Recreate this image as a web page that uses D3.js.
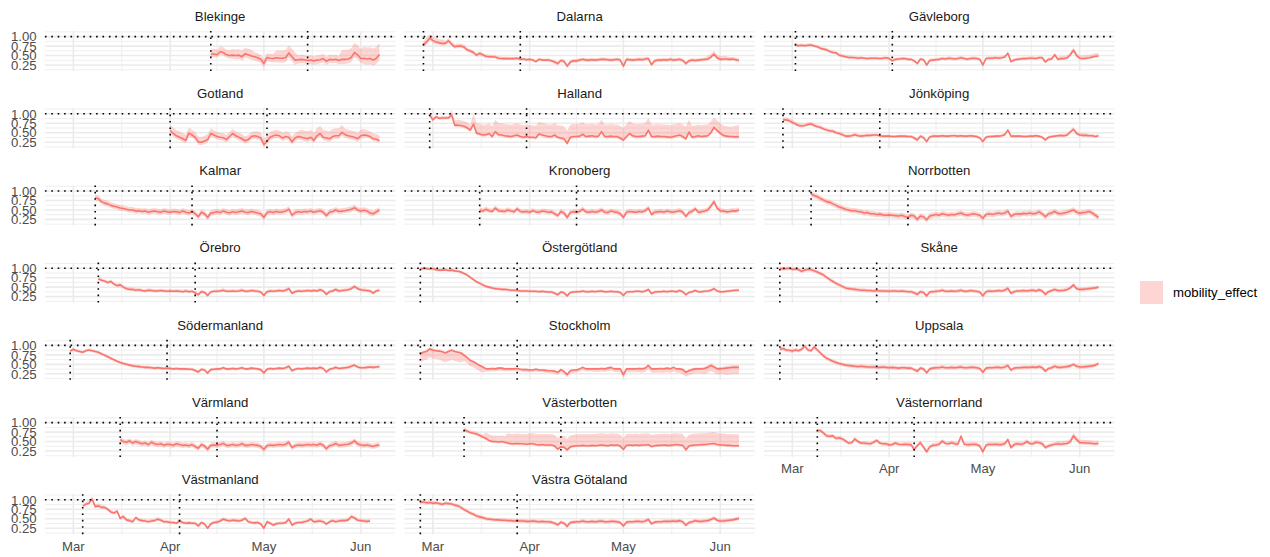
<!DOCTYPE html>
<html><head><meta charset="utf-8">
<script src="https://cdn.jsdelivr.net/npm/d3@7"></script>
<style>
body{margin:0;background:#fff}
svg{display:block}
text{font-family:"Liberation Sans",Arial,Helvetica,sans-serif}
</style>
</head><body>
<svg id="chart" width="1270" height="557"></svg>
<script>
// ---------------- data ----------------
const regions = ["Blekinge","Dalarna","Gävleborg","Gotland","Halland","Jönköping","Kalmar","Kronoberg","Norrbotten","Örebro","Östergötland","Skåne","Södermanland","Stockholm","Uppsala","Värmland","Västerbotten","Västernorrland","Västmanland","Västra Götaland"];
const startDates = ["2020-04-14","2020-02-27","2020-03-02","2020-04-01","2020-02-29","2020-02-27","2020-03-08","2020-03-16","2020-03-07","2020-03-09","2020-02-26","2020-02-26","2020-02-29","2020-02-26","2020-02-26","2020-03-16","2020-03-11","2020-03-09","2020-03-04","2020-02-26"];
const secondDates = ["2020-05-15","2020-03-29","2020-04-02","2020-05-02","2020-03-31","2020-03-29","2020-04-08","2020-04-16","2020-04-07","2020-04-09","2020-03-28","2020-03-28","2020-03-31","2020-03-28","2020-03-28","2020-04-16","2020-04-11","2020-04-09","2020-04-04","2020-03-28"];

const blekinge = [0.54,0.54,0.52,0.60,0.58,0.52,0.50,0.51,0.50,0.51,0.47,0.55,0.52,0.49,0.47,0.44,0.40,0.29,0.45,0.43,0.42,0.44,0.43,0.43,0.45,0.57,0.47,0.38,0.39,0.40,0.39,0.37,0.38,0.36,0.38,0.39,0.42,0.35,0.40,0.39,0.40,0.37,0.40,0.40,0.41,0.45,0.58,0.52,0.42,0.43,0.41,0.42,0.38,0.43,0.53];
const dalarna = [0.78,0.86,0.96,0.90,0.86,0.84,0.82,0.82,0.89,0.80,0.73,0.75,0.75,0.72,0.65,0.62,0.58,0.51,0.56,0.52,0.48,0.47,0.47,0.46,0.43,0.42,0.42,0.42,0.42,0.42,0.43,0.40,0.41,0.39,0.40,0.38,0.34,0.40,0.38,0.38,0.38,0.36,0.33,0.29,0.37,0.35,0.22,0.33,0.36,0.36,0.38,0.40,0.38,0.38,0.39,0.38,0.39,0.40,0.40,0.39,0.38,0.39,0.40,0.38,0.22,0.40,0.39,0.38,0.39,0.40,0.39,0.41,0.42,0.26,0.36,0.38,0.38,0.39,0.38,0.40,0.38,0.39,0.40,0.37,0.29,0.36,0.38,0.37,0.38,0.39,0.40,0.41,0.46,0.54,0.44,0.40,0.41,0.41,0.40,0.41,0.39,0.37];
const gavleborg = [0.78,0.76,0.77,0.76,0.77,0.78,0.75,0.73,0.69,0.67,0.65,0.61,0.58,0.57,0.51,0.49,0.47,0.45,0.45,0.44,0.43,0.44,0.43,0.42,0.43,0.43,0.43,0.42,0.43,0.44,0.42,0.36,0.40,0.41,0.42,0.42,0.40,0.40,0.36,0.29,0.41,0.39,0.25,0.37,0.38,0.39,0.40,0.42,0.41,0.43,0.42,0.41,0.42,0.44,0.42,0.40,0.42,0.43,0.42,0.40,0.25,0.42,0.43,0.43,0.44,0.43,0.44,0.46,0.56,0.34,0.38,0.40,0.41,0.42,0.42,0.43,0.43,0.42,0.44,0.44,0.33,0.40,0.41,0.52,0.40,0.42,0.42,0.44,0.52,0.64,0.50,0.43,0.42,0.43,0.44,0.46,0.48,0.49];
const gotland = [0.56,0.48,0.42,0.38,0.34,0.30,0.49,0.44,0.38,0.26,0.25,0.28,0.32,0.48,0.44,0.40,0.38,0.37,0.32,0.40,0.48,0.42,0.38,0.34,0.29,0.32,0.40,0.42,0.40,0.36,0.19,0.28,0.38,0.42,0.44,0.42,0.36,0.40,0.38,0.26,0.36,0.40,0.38,0.36,0.34,0.38,0.30,0.42,0.48,0.38,0.36,0.34,0.40,0.42,0.42,0.51,0.45,0.42,0.40,0.38,0.34,0.42,0.44,0.43,0.40,0.34,0.33,0.29];
const halland = [0.97,0.84,0.92,0.88,0.89,0.89,0.89,0.97,0.70,0.70,0.69,0.67,0.63,0.57,0.73,0.49,0.47,0.44,0.45,0.48,0.40,0.53,0.45,0.44,0.42,0.41,0.40,0.42,0.44,0.40,0.38,0.40,0.38,0.38,0.37,0.47,0.44,0.42,0.40,0.40,0.44,0.38,0.36,0.34,0.22,0.38,0.40,0.40,0.41,0.46,0.40,0.41,0.42,0.40,0.41,0.53,0.40,0.40,0.41,0.40,0.40,0.36,0.31,0.40,0.48,0.42,0.40,0.40,0.41,0.42,0.57,0.40,0.40,0.41,0.40,0.40,0.39,0.38,0.40,0.42,0.44,0.40,0.34,0.52,0.38,0.40,0.42,0.40,0.41,0.42,0.50,0.64,0.56,0.49,0.43,0.41,0.40,0.40,0.39,0.40];
const jonkoping = [0.84,0.84,0.82,0.77,0.73,0.69,0.68,0.69,0.72,0.73,0.69,0.66,0.64,0.60,0.57,0.55,0.54,0.50,0.48,0.45,0.41,0.41,0.42,0.45,0.42,0.41,0.42,0.43,0.43,0.44,0.44,0.42,0.41,0.41,0.41,0.40,0.40,0.41,0.41,0.41,0.40,0.40,0.36,0.31,0.41,0.37,0.27,0.39,0.41,0.41,0.41,0.42,0.41,0.41,0.42,0.42,0.41,0.42,0.41,0.41,0.42,0.41,0.40,0.36,0.27,0.38,0.40,0.40,0.41,0.41,0.42,0.45,0.57,0.41,0.41,0.41,0.41,0.40,0.40,0.41,0.41,0.42,0.41,0.38,0.31,0.38,0.40,0.41,0.42,0.43,0.42,0.44,0.52,0.59,0.48,0.44,0.43,0.43,0.42,0.42,0.40,0.42];
const kalmar = [0.82,0.80,0.72,0.68,0.66,0.62,0.60,0.58,0.55,0.54,0.52,0.50,0.50,0.47,0.48,0.46,0.47,0.44,0.46,0.47,0.45,0.44,0.47,0.45,0.44,0.46,0.45,0.43,0.47,0.44,0.42,0.46,0.40,0.32,0.44,0.40,0.30,0.42,0.43,0.45,0.43,0.47,0.44,0.42,0.45,0.43,0.45,0.47,0.44,0.43,0.46,0.44,0.42,0.40,0.30,0.43,0.45,0.43,0.46,0.44,0.45,0.47,0.52,0.36,0.43,0.45,0.44,0.46,0.45,0.47,0.44,0.46,0.48,0.44,0.35,0.44,0.46,0.50,0.46,0.47,0.48,0.50,0.52,0.56,0.50,0.47,0.49,0.47,0.42,0.40,0.45,0.50];
const kronoberg = [0.50,0.47,0.52,0.48,0.46,0.55,0.48,0.47,0.46,0.50,0.47,0.45,0.53,0.46,0.45,0.46,0.44,0.48,0.45,0.44,0.47,0.46,0.44,0.45,0.40,0.35,0.46,0.42,0.30,0.43,0.45,0.44,0.46,0.52,0.45,0.44,0.46,0.44,0.46,0.50,0.44,0.43,0.47,0.45,0.44,0.40,0.30,0.44,0.46,0.45,0.44,0.46,0.45,0.48,0.55,0.38,0.44,0.45,0.46,0.44,0.47,0.45,0.44,0.46,0.48,0.44,0.33,0.43,0.46,0.53,0.44,0.45,0.47,0.50,0.60,0.72,0.55,0.48,0.47,0.45,0.46,0.48,0.47,0.50];
const norrbotten = [0.92,0.88,0.85,0.80,0.76,0.72,0.70,0.66,0.62,0.58,0.55,0.52,0.50,0.48,0.48,0.46,0.45,0.42,0.43,0.40,0.40,0.38,0.39,0.37,0.36,0.37,0.36,0.35,0.34,0.36,0.33,0.30,0.36,0.34,0.25,0.34,0.32,0.24,0.34,0.36,0.38,0.36,0.40,0.38,0.36,0.38,0.37,0.40,0.42,0.38,0.36,0.38,0.40,0.38,0.36,0.28,0.38,0.40,0.38,0.40,0.42,0.40,0.42,0.47,0.33,0.38,0.40,0.39,0.41,0.40,0.42,0.40,0.41,0.45,0.40,0.32,0.40,0.42,0.46,0.41,0.40,0.42,0.44,0.47,0.50,0.44,0.41,0.43,0.44,0.46,0.42,0.36,0.30];
const orebro = [0.72,0.68,0.66,0.62,0.65,0.58,0.54,0.56,0.50,0.46,0.44,0.44,0.42,0.43,0.41,0.40,0.42,0.41,0.40,0.40,0.41,0.40,0.39,0.40,0.39,0.40,0.39,0.38,0.40,0.38,0.39,0.35,0.30,0.38,0.36,0.28,0.37,0.39,0.39,0.40,0.42,0.39,0.39,0.40,0.39,0.40,0.42,0.39,0.39,0.41,0.40,0.39,0.37,0.28,0.38,0.40,0.39,0.40,0.41,0.40,0.42,0.46,0.34,0.38,0.40,0.39,0.40,0.41,0.40,0.41,0.40,0.43,0.40,0.31,0.38,0.40,0.44,0.40,0.41,0.42,0.43,0.46,0.52,0.46,0.43,0.42,0.41,0.40,0.34,0.40,0.42];
const ostergotland = [0.98,1.00,0.99,0.98,0.99,0.96,0.95,0.95,0.96,0.94,0.95,0.93,0.92,0.90,0.86,0.82,0.76,0.70,0.64,0.60,0.56,0.52,0.50,0.48,0.46,0.45,0.44,0.44,0.43,0.42,0.42,0.41,0.40,0.40,0.40,0.39,0.39,0.39,0.38,0.39,0.38,0.37,0.37,0.34,0.30,0.37,0.35,0.27,0.36,0.37,0.38,0.38,0.40,0.38,0.38,0.39,0.38,0.39,0.40,0.38,0.38,0.39,0.38,0.38,0.36,0.28,0.37,0.38,0.38,0.39,0.39,0.38,0.40,0.44,0.33,0.37,0.38,0.38,0.39,0.38,0.39,0.39,0.38,0.41,0.38,0.30,0.36,0.38,0.41,0.38,0.38,0.39,0.40,0.42,0.46,0.40,0.38,0.38,0.39,0.40,0.41,0.42,0.42];
const skane = [1.00,0.98,0.99,1.00,0.97,0.98,0.96,0.92,0.95,0.97,0.96,0.93,0.90,0.86,0.82,0.76,0.70,0.65,0.60,0.56,0.52,0.48,0.46,0.45,0.44,0.43,0.42,0.42,0.41,0.41,0.40,0.41,0.40,0.40,0.40,0.39,0.40,0.40,0.39,0.40,0.39,0.38,0.38,0.35,0.31,0.38,0.36,0.27,0.37,0.38,0.39,0.40,0.42,0.39,0.39,0.40,0.39,0.40,0.42,0.39,0.39,0.41,0.40,0.39,0.37,0.27,0.38,0.40,0.39,0.40,0.41,0.40,0.42,0.47,0.34,0.38,0.40,0.40,0.41,0.40,0.41,0.42,0.40,0.43,0.40,0.31,0.38,0.41,0.44,0.41,0.41,0.42,0.44,0.48,0.56,0.46,0.44,0.44,0.45,0.46,0.47,0.48,0.50];
const sodermanland = [0.85,0.90,0.86,0.84,0.82,0.86,0.88,0.86,0.84,0.82,0.78,0.74,0.70,0.66,0.62,0.58,0.55,0.52,0.50,0.48,0.46,0.45,0.44,0.43,0.42,0.42,0.41,0.40,0.41,0.40,0.39,0.40,0.39,0.38,0.39,0.38,0.38,0.38,0.37,0.37,0.34,0.30,0.37,0.35,0.27,0.36,0.37,0.38,0.38,0.41,0.38,0.38,0.39,0.38,0.39,0.41,0.38,0.38,0.40,0.39,0.38,0.36,0.27,0.37,0.39,0.38,0.39,0.40,0.39,0.41,0.45,0.33,0.37,0.39,0.38,0.39,0.40,0.39,0.40,0.39,0.42,0.39,0.30,0.37,0.39,0.42,0.39,0.40,0.41,0.42,0.45,0.48,0.43,0.41,0.41,0.42,0.43,0.42,0.43,0.44];
const stockholm = [0.78,0.82,0.84,0.91,0.87,0.86,0.85,0.83,0.80,0.84,0.87,0.84,0.82,0.80,0.74,0.68,0.60,0.57,0.52,0.47,0.43,0.38,0.38,0.39,0.38,0.40,0.40,0.38,0.38,0.38,0.38,0.39,0.37,0.36,0.36,0.35,0.35,0.37,0.35,0.35,0.34,0.33,0.33,0.32,0.29,0.36,0.31,0.23,0.33,0.35,0.35,0.38,0.42,0.38,0.38,0.38,0.38,0.38,0.39,0.38,0.40,0.42,0.38,0.38,0.38,0.23,0.38,0.38,0.38,0.38,0.39,0.38,0.40,0.47,0.38,0.38,0.38,0.39,0.38,0.40,0.38,0.42,0.38,0.38,0.36,0.29,0.33,0.36,0.38,0.38,0.38,0.39,0.42,0.47,0.43,0.38,0.38,0.39,0.40,0.41,0.42,0.42,0.42];
const uppsala = [0.90,0.92,0.88,0.87,0.85,0.88,0.86,0.90,0.98,0.88,0.86,0.96,0.88,0.80,0.72,0.66,0.62,0.58,0.55,0.52,0.50,0.48,0.47,0.46,0.45,0.44,0.45,0.44,0.43,0.43,0.43,0.42,0.42,0.43,0.42,0.41,0.42,0.41,0.40,0.41,0.41,0.40,0.40,0.36,0.32,0.40,0.38,0.28,0.38,0.40,0.41,0.41,0.43,0.41,0.41,0.42,0.41,0.42,0.43,0.41,0.41,0.42,0.42,0.41,0.39,0.29,0.40,0.41,0.41,0.42,0.42,0.41,0.43,0.47,0.35,0.40,0.41,0.41,0.42,0.42,0.42,0.43,0.42,0.44,0.41,0.32,0.39,0.41,0.45,0.42,0.42,0.43,0.44,0.46,0.50,0.45,0.43,0.43,0.44,0.45,0.46,0.48,0.52];
const varmland = [0.55,0.50,0.48,0.52,0.46,0.50,0.47,0.44,0.46,0.42,0.48,0.44,0.42,0.44,0.40,0.43,0.42,0.40,0.44,0.42,0.40,0.41,0.39,0.42,0.37,0.32,0.42,0.38,0.30,0.40,0.41,0.40,0.42,0.45,0.40,0.40,0.42,0.40,0.41,0.44,0.40,0.40,0.42,0.41,0.40,0.37,0.29,0.39,0.41,0.40,0.41,0.42,0.41,0.43,0.48,0.34,0.39,0.41,0.40,0.41,0.42,0.41,0.42,0.40,0.44,0.40,0.31,0.39,0.41,0.45,0.40,0.41,0.42,0.43,0.46,0.52,0.44,0.41,0.40,0.41,0.39,0.37,0.40,0.41];
const vasterbotten = [0.81,0.77,0.74,0.72,0.70,0.66,0.62,0.58,0.53,0.50,0.50,0.49,0.50,0.48,0.46,0.44,0.44,0.45,0.44,0.44,0.43,0.44,0.44,0.42,0.41,0.42,0.41,0.41,0.41,0.38,0.30,0.36,0.35,0.28,0.36,0.38,0.39,0.39,0.40,0.39,0.39,0.40,0.39,0.40,0.41,0.40,0.39,0.41,0.40,0.41,0.38,0.29,0.40,0.41,0.40,0.41,0.40,0.41,0.41,0.42,0.37,0.39,0.40,0.40,0.41,0.40,0.40,0.41,0.42,0.41,0.40,0.28,0.38,0.40,0.41,0.41,0.42,0.42,0.43,0.44,0.45,0.42,0.41,0.41,0.40,0.40,0.39,0.39,0.39];
const vasternorrland = [0.79,0.79,0.72,0.65,0.64,0.65,0.58,0.60,0.57,0.52,0.46,0.47,0.57,0.50,0.46,0.46,0.45,0.44,0.48,0.53,0.46,0.44,0.44,0.41,0.42,0.46,0.43,0.42,0.43,0.42,0.42,0.29,0.39,0.47,0.35,0.23,0.36,0.40,0.41,0.43,0.51,0.45,0.44,0.47,0.44,0.43,0.64,0.43,0.42,0.42,0.43,0.42,0.38,0.23,0.40,0.43,0.42,0.43,0.42,0.42,0.44,0.55,0.34,0.42,0.44,0.43,0.44,0.50,0.45,0.44,0.48,0.47,0.44,0.34,0.38,0.41,0.43,0.44,0.43,0.44,0.45,0.50,0.65,0.55,0.47,0.47,0.46,0.46,0.45,0.44,0.45];
const vastmanland = [0.84,0.88,0.91,1.02,0.82,0.84,0.80,0.80,0.75,0.68,0.65,0.70,0.51,0.56,0.47,0.45,0.42,0.53,0.47,0.45,0.44,0.42,0.44,0.45,0.49,0.46,0.42,0.42,0.40,0.40,0.38,0.44,0.40,0.38,0.39,0.38,0.38,0.31,0.40,0.36,0.25,0.36,0.40,0.41,0.44,0.49,0.46,0.44,0.46,0.45,0.44,0.46,0.51,0.42,0.40,0.39,0.40,0.36,0.25,0.42,0.38,0.33,0.37,0.38,0.38,0.40,0.49,0.33,0.38,0.40,0.40,0.42,0.44,0.49,0.42,0.43,0.44,0.42,0.36,0.42,0.45,0.42,0.44,0.45,0.45,0.47,0.56,0.52,0.46,0.45,0.44,0.43,0.44];
const vastraGotaland = [0.93,0.94,0.92,0.93,0.91,0.92,0.90,0.88,0.91,0.90,0.89,0.86,0.84,0.80,0.74,0.70,0.65,0.62,0.57,0.55,0.53,0.50,0.49,0.48,0.47,0.47,0.46,0.46,0.45,0.45,0.44,0.45,0.44,0.44,0.43,0.43,0.44,0.43,0.42,0.43,0.42,0.42,0.41,0.38,0.34,0.41,0.38,0.30,0.40,0.41,0.42,0.42,0.44,0.42,0.42,0.43,0.42,0.43,0.44,0.42,0.42,0.43,0.43,0.42,0.40,0.31,0.41,0.42,0.42,0.43,0.43,0.42,0.44,0.48,0.37,0.41,0.42,0.42,0.43,0.43,0.43,0.44,0.43,0.45,0.42,0.33,0.40,0.42,0.45,0.43,0.43,0.44,0.45,0.48,0.52,0.46,0.44,0.44,0.45,0.46,0.47,0.49,0.51];

const seriesValues = [blekinge,dalarna,gavleborg,gotland,halland,jonkoping,kalmar,kronoberg,norrbotten,orebro,ostergotland,skane,sodermanland,stockholm,uppsala,varmland,vasterbotten,vasternorrland,vastmanland,vastraGotaland];

// weekly ribbon half-widths (upper / lower), one value per week from each start
const upperSpread = [
  [0.14,0.16,0.12,0.20,0.12,0.12,0.25,0.30],
  [0.10,0.07,0.05,0.05,0.04,0.04,0.05,0.05,0.05,0.05,0.05,0.05,0.05,0.08,0.06],
  [0.05,0.05,0.05,0.04,0.04,0.04,0.05,0.05,0.05,0.05,0.05,0.05,0.07,0.08],
  [0.15,0.14,0.12,0.12,0.14,0.14,0.20,0.20,0.16,0.14],
  [0.05,0.14,0.27,0.31,0.32,0.32,0.33,0.32,0.32,0.33,0.32,0.32,0.30,0.26,0.30],
  [0.07,0.06,0.05,0.05,0.04,0.04,0.05,0.04,0.04,0.04,0.04,0.04,0.04,0.06,0.05],
  [0.08],
  [0.07],
  [0.07],
  [0.05],
  [0.04],
  [0.05],
  [0.04],
  [0.04,0.04,0.03,0.03,0.03,0.03,0.03,0.03,0.03,0.03,0.03,0.03,0.04,0.05,0.06],
  [0.05],
  [0.07],
  [0.06,0.16,0.26,0.28,0.29,0.30,0.31,0.30,0.30,0.30,0.30,0.30,0.30],
  [0.05,0.05,0.05,0.05,0.06,0.06,0.06,0.06,0.06,0.06,0.06,0.08,0.08],
  [0.07,0.05],
  [0.05]
];
const lowerSpread = [
  [0.08,0.10,0.10,0.12,0.10,0.10,0.12,0.15],
  [0.06,0.05,0.05,0.04,0.04,0.04,0.05],
  [0.04],
  [0.08,0.08,0.08,0.08,0.08,0.08,0.08,0.08,0.08,0.06],
  [0.04,0.05],
  [0.04],
  [0.07],
  [0.06],
  [0.07],
  [0.04],
  [0.04],
  [0.05],
  [0.04],
  [0.22,0.25,0.15,0.07,0.06,0.06,0.07,0.07,0.08,0.09,0.10,0.11,0.12,0.15,0.18],
  [0.05],
  [0.07],
  [0.04],
  [0.05],
  [0.04],
  [0.05]
];

const monthTicks = ["2020-03-01","2020-04-01","2020-05-01","2020-06-01"];
const minorTicks = ["2020-03-16T12:00","2020-04-16","2020-05-16T12:00"];
const yTicks = [0.25, 0.50, 0.75, 1.00];
const yMinor = [0.125, 0.375, 0.625, 0.875, 1.125];
const yDataRange = [0.14, 1.10];
const legendLabel = "mobility_effect";

// ---------------- layout ----------------
const parse = d3.utcParse("%Y-%m-%d");
const parseT = s => s.length > 10 ? d3.utcParse("%Y-%m-%dT%H:%M")(s) : parse(s);
const DAY = 864e5;
const nCol = 3;
const panelW = 350.5, panelH = 40;
const colX = [44.9, 404.4, 763.9];
const rowTop = r => 31 + 77.2 * r;
const red = "#F8766D";
const FS = 13.2;
const LW = 1.6;

const series = regions.map((name, i) => {
  const s0 = parse(startDates[i]);
  const up = upperSpread[i], lo = lowerSpread[i];
  return seriesValues[i].map((v, k) => {
    const w = Math.floor(k / 7);
    return {
      date: new Date(+s0 + k * DAY),
      v,
      hi: v + up[Math.min(w, up.length - 1)],
      lo: v - lo[Math.min(w, lo.length - 1)]
    };
  });
});

const allDates = series.flat().map(d => d.date);
const dMin = d3.min(allDates), dMax = d3.max(allDates);
const span = dMax - dMin;
const x = d3.scaleUtc()
  .domain([new Date(+dMin - 0.05 * span), new Date(+dMax + 0.05 * span)])
  .range([0, panelW]);
const ySpan = yDataRange[1] - yDataRange[0];
const y = d3.scaleLinear()
  .domain([yDataRange[0] - 0.05 * ySpan, yDataRange[1] + 0.05 * ySpan])
  .range([panelH, 0]);

const svg = d3.select("#chart");
svg.append("rect").attr("width", 1270).attr("height", 557).attr("fill", "#fff");

const area = d3.area().x(d => x(d.date)).y0(d => y(d.lo)).y1(d => y(d.hi));
const line = d3.line().x(d => x(d.date)).y(d => y(d.v));

const nPanels = regions.length;

regions.forEach((name, i) => {
  const r = Math.floor(i / nCol), c = i % nCol;
  const g = svg.append("g").attr("transform", `translate(${colX[c]},${rowTop(r)})`);

  // grid
  g.selectAll(".ymin").data(yMinor).join("line")
    .attr("x1", 0).attr("x2", panelW).attr("y1", d => y(d)).attr("y2", d => y(d))
    .attr("stroke", "#EBEBEB").attr("stroke-width", LW / 2);
  g.selectAll(".xmin").data(minorTicks.map(parseT)).join("line")
    .attr("y1", 0).attr("y2", panelH).attr("x1", d => x(d)).attr("x2", d => x(d))
    .attr("stroke", "#EBEBEB").attr("stroke-width", LW / 2);
  g.selectAll(".ymaj").data(yTicks).join("line")
    .attr("x1", 0).attr("x2", panelW).attr("y1", d => y(d)).attr("y2", d => y(d))
    .attr("stroke", "#EBEBEB").attr("stroke-width", LW);
  g.selectAll(".xmaj").data(monthTicks.map(parse)).join("line")
    .attr("y1", 0).attr("y2", panelH).attr("x1", d => x(d)).attr("x2", d => x(d))
    .attr("stroke", "#EBEBEB").attr("stroke-width", LW);

  // ribbon + line
  g.append("path").datum(series[i]).attr("d", area)
    .attr("fill", red).attr("fill-opacity", 0.3);
  g.append("path").datum(series[i]).attr("d", line)
    .attr("fill", "none").attr("stroke", red).attr("stroke-width", LW)
    .attr("stroke-linejoin", "round");

  // dotted reference lines
  g.append("line").attr("x1", 0).attr("x2", panelW).attr("y1", y(1)).attr("y2", y(1))
    .attr("stroke", "#000").attr("stroke-width", LW).attr("stroke-dasharray", "1.6,4.8");
  [startDates[i], secondDates[i]].forEach(s => {
    const xx = x(parse(s));
    g.append("line").attr("x1", xx).attr("x2", xx).attr("y1", 0).attr("y2", panelH)
      .attr("stroke", "#000").attr("stroke-width", LW).attr("stroke-dasharray", "1.6,4.8");
  });

  // strip title
  g.append("text").attr("x", panelW / 2).attr("y", -10.3)
    .attr("text-anchor", "middle").attr("font-size", FS).attr("fill", "#1A1A1A")
    .text(name);

  // y axis labels on first column
  if (c === 0) {
    g.selectAll(".ylab").data(yTicks).join("text")
      .attr("x", -8.2).attr("y", d => y(d) + 4.7)
      .attr("text-anchor", "end").attr("font-size", FS).attr("fill", "#4D4D4D")
      .text(d => d3.format(".2f")(d));
  }
  // x axis labels where no panel below
  if (i + nCol >= nPanels) {
    g.selectAll(".xlab").data(monthTicks.map(parse)).join("text")
      .attr("x", d => x(d)).attr("y", panelH + 16.4)
      .attr("text-anchor", "middle").attr("font-size", FS).attr("fill", "#4D4D4D")
      .text(d => d3.utcFormat("%b")(d));
  }
});

// legend
const lg = svg.append("g").attr("transform", "translate(1140,281)");
lg.append("rect").attr("width", 23).attr("height", 23).attr("fill", red).attr("fill-opacity", 0.3);
lg.append("text").attr("x", 33).attr("y", 16.2).attr("font-size", FS).attr("fill", "#000")
  .text(legendLabel);
</script>
</body></html>
